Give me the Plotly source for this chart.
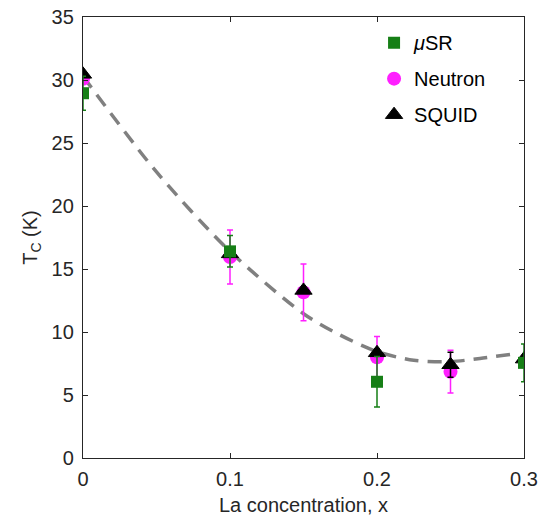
import plotly.graph_objects as go

# La concentration and transition temperatures (K) from three probes
x_musr = [0.0, 0.1, 0.2, 0.3]
tc_musr = [28.95, 16.4, 6.05, 7.55]
err_musr = [1.35, 1.25, 2.0, 1.5]

x_neutron = [0.0, 0.1, 0.15, 0.2, 0.25]
tc_neutron = [30.1, 15.95, 13.15, 8.0, 6.85]
err_neutron = [0.0, 2.15, 2.25, 1.65, 1.7]

x_squid = [0.0, 0.1, 0.15, 0.2, 0.25, 0.3]
tc_squid = [30.45, 16.2, 13.3, 8.35, 7.4, 7.85]
err_squid = [0.0, 0.0, 0.0, 0.0, 1.0, 0.0]

# guide-to-the-eye trend line
x_guide = [0.0, 0.05, 0.1, 0.15, 0.175, 0.2, 0.225, 0.25, 0.27, 0.2925]
tc_guide = [30.3, 22.7, 16.4, 11.45, 9.75, 8.45, 7.75, 7.65, 7.9, 8.25]

x_ticks = [0, 0.1, 0.2, 0.3]
x_ticklabels = ["0", "0.1", "0.2", "0.3"]
y_ticks = [0, 5, 10, 15, 20, 25, 30, 35]

FONT = "Liberation Sans, Arial, Helvetica, sans-serif"
AXIS_COLOR = "#262626"
GREEN = "#167f16"
MAGENTA = "#ff1fff"
FS = 20

fig = go.Figure()

fig.add_trace(go.Scatter(
    x=x_guide, y=tc_guide, mode="lines", showlegend=False,
    line=dict(color="#808080", width=3.5, dash="14px,9px", shape="spline", smoothing=0.8),
    hoverinfo="skip",
))

fig.add_trace(go.Scatter(
    x=x_neutron, y=tc_neutron, mode="markers", name="Neutron",
    legendrank=2, legendgroup="n",
    marker=dict(symbol="circle", size=14, color=MAGENTA),
    error_y=dict(type="data", array=err_neutron, color=MAGENTA, thickness=1.5, width=3),
))

fig.add_trace(go.Scatter(
    x=x_squid, y=tc_squid, mode="markers", name="SQUID",
    legendrank=3, legendgroup="s",
    marker=dict(symbol="triangle-up", size=15, color="black", line=dict(color="black", width=1)),
    error_y=dict(type="data", array=err_squid, color="black", thickness=1.5, width=3),
))

fig.add_trace(go.Scatter(
    x=x_musr, y=tc_musr, mode="markers", name="<i>μ</i>SR",
    legendrank=1, legendgroup="m",
    marker=dict(symbol="square", size=12, color=GREEN),
    error_y=dict(type="data", array=err_musr, color=GREEN, thickness=1.5, width=3),
))

axis_common = dict(
    showgrid=False, zeroline=False, showline=True, mirror="ticks",
    linecolor=AXIS_COLOR, linewidth=1.4, ticks="inside", ticklen=5,
    tickcolor=AXIS_COLOR, tickwidth=1.4, automargin=False,
    tickfont=dict(family=FONT, size=FS, color=AXIS_COLOR),
)

fig.update_layout(
    width=546, height=521,
    margin=dict(l=83, r=22, t=17, b=63),
    paper_bgcolor="white", plot_bgcolor="white",
    font=dict(family=FONT, color=AXIS_COLOR),
    xaxis=dict(
        range=[0, 0.3], tickvals=x_ticks, ticktext=x_ticklabels,
        ticklabelstandoff=3,
        title=dict(text="La concentration, x", font=dict(family=FONT, size=FS, color=AXIS_COLOR), standoff=8),
        **axis_common,
    ),
    yaxis=dict(
        range=[0, 35], tickvals=y_ticks, ticklabelstandoff=4,
        title=dict(text="T<sub>C</sub> (K)", font=dict(family=FONT, size=FS, color=AXIS_COLOR), standoff=8),
        **axis_common,
    ),
    legend=dict(
        x=0.66, y=0.986, xanchor="left", yanchor="top",
        bgcolor="rgba(0,0,0,0)", tracegroupgap=7,
        font=dict(family=FONT, size=FS, color="black"),
    ),
)

fig.write_html("out.html")
